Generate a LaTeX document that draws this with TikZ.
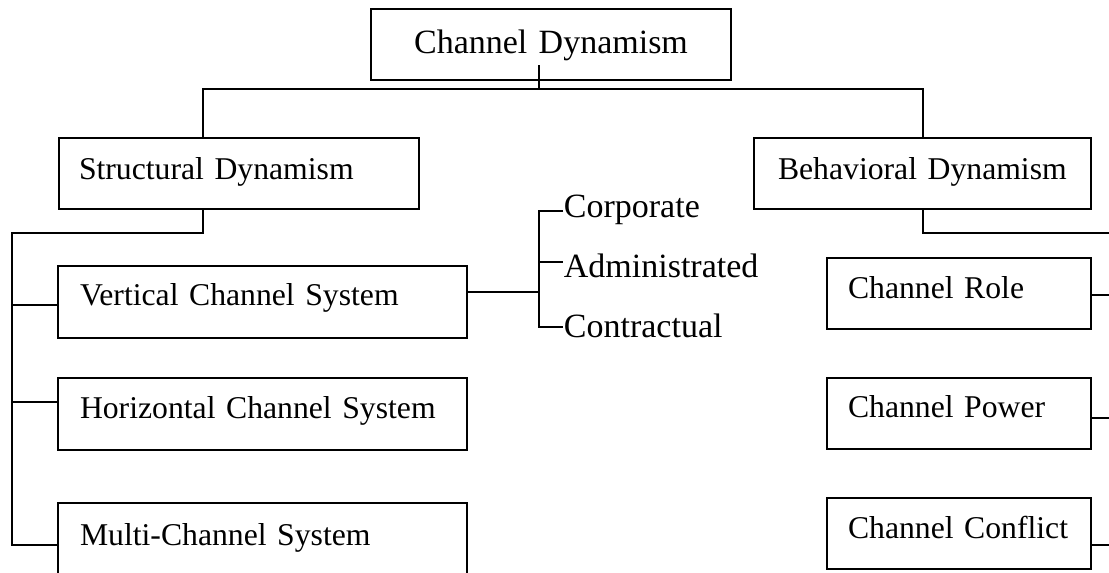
\documentclass[tikz,border=0pt]{standalone}
\usepackage{fontspec}
\setmainfont{Liberation Serif}
\usetikzlibrary{calc}
\begin{document}
\begin{tikzpicture}[x=1pt,y=-1pt,
  line width=1.8pt,
  box/.style={draw, line width=1.8pt, inner sep=0pt,
    font=\fontsize{31.7}{38}\selectfont, text height=22pt, text depth=11pt,
    align=left},
  item/.style={inner sep=0pt, anchor=base west, font=\fontsize{34}{40}\selectfont}]
\useasboundingbox (0,0) rectangle (1109,573);
\fill[white] (0,0) rectangle (1109,573);

% top of the hierarchy
\node[box, align=center, font=\fontsize{34}{40}\selectfont,
  minimum width=360pt, minimum height=71pt, text width=340pt, text depth=5pt]
  (root) at (551,44.5) {Channel Dynamism};

% second level
\node[box, minimum width=360pt, minimum height=71pt, text width=320pt]
  (struct) at (239,173.5) {Structural Dynamism};
\node[box, minimum width=337pt, minimum height=71pt, text width=289pt]
  (behav) at (922.5,173.5) {Behavioral Dynamism};

% structural branch
\node[box, minimum width=409pt, minimum height=72pt, text width=365pt, text depth=16pt]
  (vert) at (262.5,302) {Vertical Channel System};
\node[box, minimum width=409pt, minimum height=72pt, text width=365pt, text depth=14pt]
  (horiz) at (262.5,414) {Horizontal Channel System};
\node[box, minimum width=409pt, minimum height=72pt, text width=365pt, text depth=10pt]
  (multi) at (262.5,539) {Multi-Channel System};

% behavioral branch
\node[box, minimum width=264pt, minimum height=71pt, text width=222pt, text depth=13pt]
  (role) at (959,293.5) {Channel Role};
\node[box, minimum width=264pt, minimum height=71pt, text width=222pt, text depth=15pt]
  (power) at (959,413.5) {Channel Power};
\node[box, minimum width=264pt, minimum height=71pt, text width=222pt, text depth=13pt]
  (conflict) at (959,533.5) {Channel Conflict};

% kinds of vertical systems
\node[item] (corp) at (563,217) {Corporate};
\node[item] (admin) at (563,277) {Administrated};
\node[item] (contr) at (563,337) {Contractual};

% root to second level
\coordinate (stem) at (539,65);
\coordinate (hub) at (539,89);
\coordinate (sx) at (203,0);
\coordinate (bx) at (923,0);
\draw (stem) -- (hub);
\draw (struct.north -| sx) |- (hub) -| (behav.north -| bx);

% structural rail
\coordinate (lt) at (12,233);
\coordinate (lv) at (12,305);
\coordinate (lh) at (12,402);
\coordinate (lm) at (12,545);
\draw (struct.south -| sx) |- (lt) -- (lm) -- (lm -| multi.west);
\draw (lv) -- (lv -| vert.west);
\draw (lh) -- (lh -| horiz.west);

% bracket for the vertical system types
\coordinate (bj) at (539,292);
\coordinate (bt) at (539,211);
\coordinate (bm) at (539,262);
\coordinate (bb) at (539,327);
\draw (bj -| vert.east) -- (bj);
\draw (bt -| corp.west) -- (bt) -- (bb) -- (bb -| contr.west);
\draw (bm) -- (bm -| admin.west);

% behavioral rail
\coordinate (rt) at (1112,233);
\coordinate (rr) at (1112,295);
\coordinate (rp) at (1112,418);
\coordinate (rc) at (1112,545);
\draw (behav.south -| bx) |- (rt);
\draw (rr -| role.east) -- (rr);
\draw (rp -| power.east) -- (rp);
\draw (rc -| conflict.east) -- (rc);
\end{tikzpicture}
\end{document}
